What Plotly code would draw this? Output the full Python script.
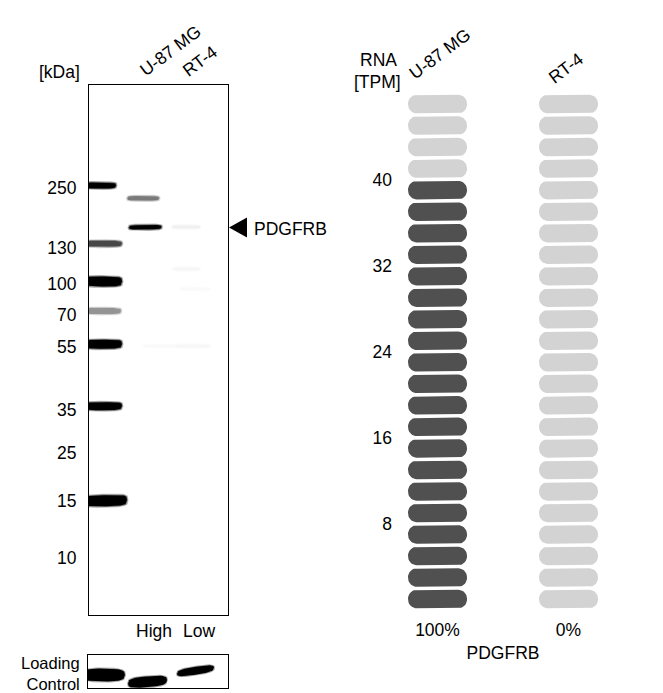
import numpy as np
import plotly.graph_objects as go

# page body has an 8px default margin; lay out in window pixels and compensate
OFF = 8
W, H = 663 - 2 * OFF + 8, 693 - 2 * OFF + 8   # 655 x 685
FONT = "Arial, Liberation Sans, sans-serif"
FS = 17.5

# ---------------- data ----------------
# Western blot: ladder (kDa) and migration distance (px from top of gel)
ladder_kda = [250, 130, 100, 70, 55, 35, 25, 15, 10]
ladder_label_pos = [103, 163, 199, 230, 262, 325, 368, 416, 473]

lanes = ["Ladder", "U-87 MG", "RT-4"]
lane_levels = ["", "High", "Low"]
target = "PDGFRB"

band_lane = ["Ladder", "Ladder", "Ladder", "Ladder", "Ladder", "Ladder", "Ladder",
             "U-87 MG", "U-87 MG", "U-87 MG",
             "RT-4", "RT-4", "RT-4", "RT-4"]
band_pos = [100.5, 158.7, 196.5, 226, 259.5, 321.5, 416.5,
            113.3, 142.5, 261,
            142, 184, 204, 261]
band_intensity = [1.0, 0.72, 1.0, 0.42, 1.0, 1.0, 1.0,
                  0.52, 1.0, 0.02,
                  0.06, 0.035, 0.02, 0.03]
target_band = 8  # index of the PDGFRB band

# Loading control bands
lc_lane = ["Ladder", "U-87 MG", "RT-4"]
lc_intensity = [1.0, 1.0, 1.0]

# RNA expression
rna_cells = ["U-87 MG", "RT-4"]
rna_tpm = [40.0, 0.0]
rna_ticks = [8, 16, 24, 32, 40]
tpm_per_pill = 2
n_pills = 24

# ---------------- styling ----------------
band_xend = [27, 33, 33, 32, 33, 33, 38, 70, 72.5, 121, 111, 111, 121, 121]
band_xstart = [-6, -6, -6, -6, -6, -6, -6, 38.5, 40, 54, 83, 84, 91, 85]
band_thick = [6, 6, 10, 6, 9, 8, 11, 4.5, 4.5, 3, 3, 3, 3, 3]
band_tilt = [0, 0, 0, 0, -0.5, -0.5, -1.5, 0, -0.5, 0, 0, 0, 0, 0]

lc_x = {"Ladder": (-6, 37), "U-87 MG": (40, 79), "RT-4": (89, 126)}
lc_y = {"Ladder": (20, 20), "U-87 MG": (28.5, 25), "RT-4": (18.7, 12.8)}
lc_t = {"Ladder": 13, "U-87 MG": 11, "RT-4": 8}


def gray(v):
    g = int(round(255 * (1 - v)))
    return f"rgb({g},{g},{g})"


def band_poly(x0, x1, yl, yr, t, p=4, n=60):
    xs = np.linspace(x0, x1, n)
    xm = (x0 + x1) / 2
    a = (x1 - x0) / 2
    u = np.clip(np.abs((xs - xm) / a), 0, 1)
    h = t / 2 * (1 - u ** p) ** (1 / p)
    yc = yl + (yr - yl) * (xs - x0) / (x1 - x0)
    X = list(xs) + list(xs[::-1]) + [xs[0]]
    Y = list(yc - h) + list((yc + h)[::-1]) + [yc[0] - h[0]]
    return X, Y


fig = go.Figure()

# ---- blot bands (with soft halo) ----
for i in range(len(band_pos)):
    x0, x1 = band_xstart[i], band_xend[i]
    y = band_pos[i]
    v = band_intensity[i]
    t = band_thick[i]
    for extra, f in ((3.0, 0.25), (1.5, 0.55), (0.0, 1.0)):
        X, Y = band_poly(x0 - extra / 2, x1 + extra / 2, y, y + band_tilt[i], t + extra)
        fig.add_trace(go.Scatter(x=X, y=Y, mode="lines", fill="toself",
                                 fillcolor=gray(v * f), line=dict(width=0),
                                 xaxis="x", yaxis="y", hoverinfo="skip",
                                 showlegend=False))

# ---- loading control ----
for i, ln in enumerate(lc_lane):
    x0, x1 = lc_x[ln]
    yl, yr = lc_y[ln]
    for extra, f in ((2.0, 0.35), (0.0, 1.0)):
        X, Y = band_poly(x0 - extra / 2, x1 + extra / 2, yl, yr, lc_t[ln] + extra, p=3)
        fig.add_trace(go.Scatter(x=X, y=Y, mode="lines", fill="toself",
                                 fillcolor=gray(lc_intensity[i] * f), line=dict(width=0),
                                 xaxis="x2", yaxis="y2", hoverinfo="skip",
                                 showlegend=False))

# ---- arrow pointing at target band ----
ty = band_pos[target_band]
fig.add_trace(go.Scatter(x=[1, 19, 19, 1], y=[ty, ty - 10, ty + 10, ty], mode="lines",
                         fill="toself", fillcolor="black", line=dict(width=0, color="black"),
                         xaxis="x3", yaxis="y", hoverinfo="skip", showlegend=False))

# ---- RNA pills ----
PX_X = 131.0                 # px per category unit
Y0_PX, Y1_PX = 93.3, 609.8
ymax = n_pills * tpm_per_pill
PX_Y = (Y1_PX - Y0_PX) / ymax  # px per TPM
half_w, half_h, rad = 29.5, 9.25, 8.8


def pill(xc, yc):
    pts = []
    cx = [half_w - rad, -(half_w - rad), -(half_w - rad), half_w - rad]
    cy = [half_h - rad, half_h - rad, -(half_h - rad), -(half_h - rad)]
    starts = [0, 90, 180, 270]
    for cxx, cyy, s in zip(cx, cy, starts):
        for a in np.linspace(np.radians(s), np.radians(s + 90), 10):
            pts.append((cxx + rad * np.cos(a), cyy + rad * np.sin(a)))
    pts.append(pts[0])
    X = [xc + p_[0] / PX_X for p_ in pts]
    Y = [yc + p_[1] / PX_Y for p_ in pts]
    return X, Y


dark_x, dark_y, light_x, light_y = [], [], [], []
for ci, cell in enumerate(rna_cells):
    for k in range(n_pills):
        yc = k * tpm_per_pill + tpm_per_pill / 2
        X, Y = pill(ci, yc)
        if yc < rna_tpm[ci]:
            dark_x += X + [None]; dark_y += Y + [None]
        else:
            light_x += X + [None]; light_y += Y + [None]

fig.add_trace(go.Scatter(x=light_x, y=light_y, mode="lines", fill="toself",
                         fillcolor="#d3d3d3", line=dict(width=0, color="#d3d3d3"),
                         xaxis="x4", yaxis="y4", hoverinfo="skip", showlegend=False))
fig.add_trace(go.Scatter(x=dark_x, y=dark_y, mode="lines", fill="toself",
                         fillcolor="#505050", line=dict(width=0, color="#505050"),
                         xaxis="x4", yaxis="y4", hoverinfo="skip", showlegend=False))

pct = [f"{round(v / max(rna_tpm) * 100)}%" for v in rna_tpm]


def px(x):
    return (x - OFF) / W


def py(y):
    return 1 - (y - OFF) / H


frame = dict(showline=True, mirror=True, linecolor="black", linewidth=1,
             showgrid=False, zeroline=False)

x4_dom = (395, 611)
fig.update_layout(
    width=W, height=H, margin=dict(l=0, r=0, t=0, b=0),
    paper_bgcolor="white", plot_bgcolor="white",
    font=dict(family=FONT, size=FS, color="black"),
    showlegend=False,
    xaxis=dict(domain=[px(89), px(228)], range=[0, 139], anchor="y",
               showticklabels=False, ticks="", **frame),
    yaxis=dict(domain=[py(615), py(85)], range=[530, 0], anchor="x",
               tickvals=ladder_label_pos, ticktext=[str(k) for k in ladder_kda],
               ticks="", ticklabelstandoff=8, **frame),
    xaxis2=dict(domain=[px(88), px(228)], range=[0, 140], anchor="y2",
                showticklabels=False, ticks="", **frame),
    yaxis2=dict(domain=[py(688.3), py(655)], range=[33.3, 0], anchor="x2",
                showticklabels=False, ticks="", **frame),
    xaxis3=dict(domain=[px(228), px(252)], range=[0, 24], anchor="y", visible=False),
    xaxis4=dict(domain=[px(x4_dom[0]), px(x4_dom[1])],
                range=[(x4_dom[0] - 437.5) / PX_X, (x4_dom[1] - 437.5) / PX_X],
                anchor="y4", tickvals=list(range(len(rna_cells))), ticktext=pct,
                ticks="", showline=False, showgrid=False, zeroline=False,
                ticklabelstandoff=8,
                title=dict(text=target, standoff=7, font=dict(size=FS))),
    yaxis4=dict(domain=[py(Y1_PX), py(Y0_PX)], range=[0, ymax], anchor="x4",
                tickvals=rna_ticks, ticktext=[str(t) for t in rna_ticks],
                ticks="", showline=False, showgrid=False, zeroline=False,
                ticklabelstandoff=2),
)

ann = []
# blot texts
ann.append(dict(text="[kDa]", x=px(59), y=py(72), xref="paper", yref="paper",
                showarrow=False, xanchor="center", yanchor="middle"))
lane_label_pos = {"U-87 MG": (170, 51), "RT-4": (200, 61)}
for ln in lanes[1:]:
    xx, yy = lane_label_pos[ln]
    ann.append(dict(text=ln, x=px(xx), y=py(yy), xref="paper", yref="paper",
                    showarrow=False, textangle=-37, xanchor="center", yanchor="middle"))
level_pos = {"U-87 MG": 154, "RT-4": 199}
for ln, lv in zip(lanes, lane_levels):
    if lv:
        ann.append(dict(text=lv, x=px(level_pos[ln]), y=py(631), xref="paper", yref="paper",
                        showarrow=False, xanchor="center", yanchor="middle"))
ann.append(dict(text=target, x=px(252), y=ty + 1.5, xref="paper", yref="y",
                showarrow=False, xanchor="left", yanchor="middle"))
ann.append(dict(text="Loading<br>Control", x=px(81), y=py(673), xref="paper", yref="paper",
                showarrow=False, xanchor="right", yanchor="middle", align="right",
                borderpad=0, font=dict(size=16.5)))
# RNA texts
ann.append(dict(text="RNA", x=px(378), y=py(60), xref="paper", yref="paper",
                showarrow=False, xanchor="center", yanchor="middle"))
ann.append(dict(text="[TPM]", x=px(377.5), y=py(82), xref="paper", yref="paper",
                showarrow=False, xanchor="center", yanchor="middle"))
rna_label_shift = {"U-87 MG": (2, 53.5), "RT-4": (-2.5, 68)}
for ci, cell in enumerate(rna_cells):
    sh, yy = rna_label_shift[cell]
    ann.append(dict(text=cell, x=ci, xref="x4", xshift=sh, y=py(yy), yref="paper",
                    showarrow=False, textangle=-37, xanchor="center", yanchor="middle"))
fig.update_layout(annotations=ann)

fig.write_html("out.html")
